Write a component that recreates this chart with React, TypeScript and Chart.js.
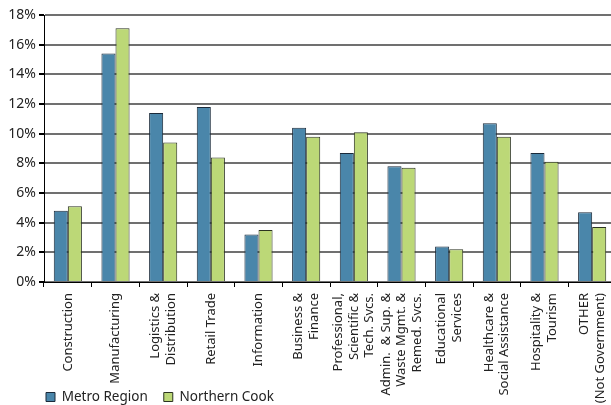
import React, { useEffect, useRef } from "react";
import { Chart, registerables } from "chart.js";

Chart.register(...registerables);

const CATEGORIES: string[][] = [
  ["Construction"],
  ["Manufacturing"],
  ["Logistics &", "Distribution"],
  ["Retail Trade"],
  ["Information"],
  ["Business &", "Finance"],
  ["Professional,", "Scientific &", "Tech. Svcs."],
  ["Admin.  & Sup. &", "Waste Mgmt. &", "Remed. Svcs."],
  ["Educational", "Services"],
  ["Healthcare &", "Social Assistance"],
  ["Hospitality &", "Tourism"],
  ["OTHER", "(Not Government)"],
];

const METRO_REGION: number[] = [4.8, 15.4, 11.4, 11.8, 3.2, 10.4, 8.7, 7.8, 2.4, 10.7, 8.7, 4.7];
const NORTHERN_COOK: number[] = [5.1, 17.1, 9.4, 8.4, 3.5, 9.8, 10.1, 7.7, 2.2, 9.8, 8.1, 3.7];

const Y_TICKS: number[] = [0, 2, 4, 6, 8, 10, 12, 14, 16, 18];

const FONT = "'Noto Sans', sans-serif";
const LEGEND_X = 46;
const LEGEND_TEXT_Y = 397;

const legendPos = {
  id: "legendPos",
  afterLayout(chart: any) {
    const lg = chart.legend;
    if (!lg) return;
    const p = lg.options.labels.padding;
    const fs = lg.options.labels.font.size;
    lg.left = LEGEND_X - p;
    lg.right = chart.width;
    lg.top = LEGEND_TEXT_Y - fs / 2 - p;
    lg.bottom = chart.height;
    lg.width = lg.right - lg.left;
    lg.height = lg.bottom - lg.top;
  },
};

export default function App() {
  const ref = useRef<HTMLCanvasElement | null>(null);

  useEffect(() => {
    if (!ref.current) return;
    const chart = new Chart(ref.current, {
      type: "bar",
      data: {
        labels: CATEGORIES,
        datasets: [
          {
            label: "Metro Region",
            data: METRO_REGION,
            backgroundColor: "#4a86aa",
            borderColor: "#1b2a3a",
            borderWidth: 1,
          },
          {
            label: "Northern Cook",
            data: NORTHERN_COOK,
            backgroundColor: "#bcd877",
            borderColor: "#2b3320",
            borderWidth: 1,
          },
        ],
      },
      options: {
        responsive: false,
        animation: false,
        devicePixelRatio: 1,
        layout: { padding: { left: 0, top: 15, right: 0, bottom: 0 } },
        datasets: {
          bar: { categoryPercentage: 0.59, barPercentage: 1 },
        },
        plugins: {
          tooltip: { enabled: false },
          legend: {
            position: "bottom",
            align: "start",
            maxHeight: 10,
            labels: {
              boxWidth: 9,
              boxHeight: 9,
              padding: 16,
              color: "#222",
              font: { family: FONT, size: 13.5 },
            },
          },
        },
        scales: {
          x: {
            offset: true,
            grid: {
              display: true,
              drawOnChartArea: false,
              drawTicks: true,
              tickLength: 5,
              color: "#000",
              offset: true,
            },
            border: { display: true, color: "#000", width: 1 },
            ticks: {
              autoSkip: false,
              maxRotation: 90,
              minRotation: 90,
              padding: 6,
              color: "#222",
              font: { family: FONT, size: 13, lineHeight: 1.2 },
            },
            afterFit(scale: any) {
              scale.height = 113;
              scale.paddingLeft = 0;
              scale.paddingRight = 0;
              if (!scale.__centered) {
                const orig = scale._computeLabelItems.bind(scale);
                scale._computeLabelItems = (ca: any) => {
                  const items = orig(ca);
                  for (const it of items) {
                    const n = Array.isArray(it.label) ? it.label.length : 1;
                    if (it.options && it.options.translation && it.font) {
                      it.options.translation[0] -= ((n - 1) * it.font.lineHeight) / 2;
                    }
                  }
                  return items;
                };
                scale._computeLabelArea = () => undefined;
                scale.__centered = true;
              }
            },
          },
          y: {
            min: 0,
            max: 18,
            grid: {
              color: "#707070",
              lineWidth: 2,
              tickColor: "#000",
              tickLength: 5,
              drawTicks: true,
            },
            border: { display: true, color: "#000", width: 1 },
            afterBuildTicks(scale: any) {
              scale.ticks = Y_TICKS.map((v) => ({ value: v }));
            },
            ticks: {
              padding: 3,
              color: "#222",
              font: { family: FONT, size: 14 },
              callback: (v: any) => `${v}%`,
            },
            afterFit(scale: any) {
              scale.width = 44;
              scale.paddingTop = 0;
              scale.paddingBottom = 0;
            },
          },
        },
      },
      plugins: [legendPos],
    });
    return () => chart.destroy();
  }, []);

  return (
    <div
      style={{
        position: "absolute",
        left: 0,
        top: 0,
        width: 611,
        height: 405,
        overflow: "hidden",
        background: "#fff",
      }}
    >
      <canvas ref={ref} width={616} height={405} style={{ display: "block" }} />
    </div>
  );
}
